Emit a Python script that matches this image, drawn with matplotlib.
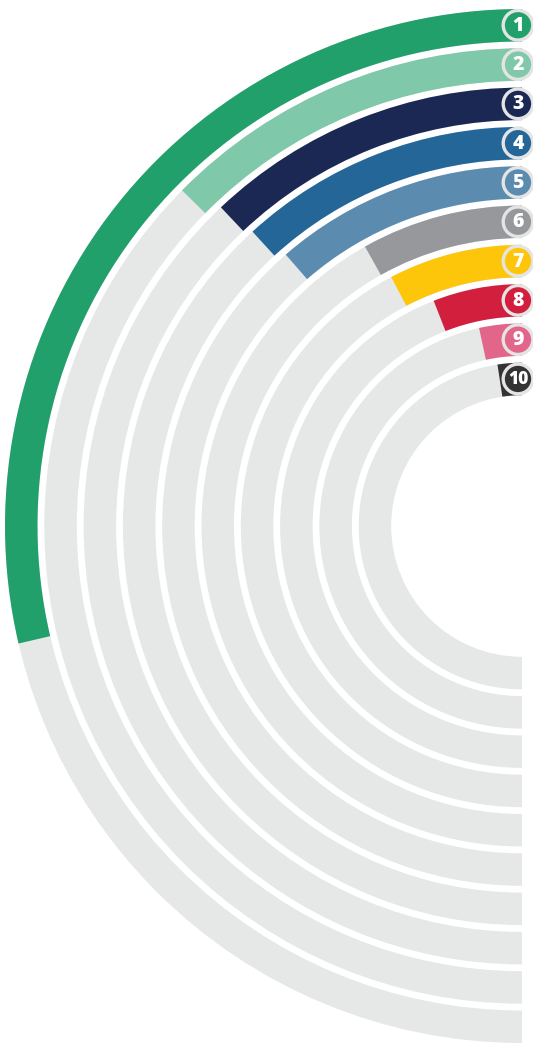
import matplotlib.pyplot as plt
from matplotlib.patches import Wedge, Circle

# share of each ring (100 = full half circle)
ranks = ["1", "2", "3", "4", "5", "6", "7", "8", "9", "10"]
values = [57.3, 25.2, 24.1, 23.6, 22.8, 16.3, 15.4, 11.9, 6.8, 4.8]
colors = ["#22a06b", "#7fc8a9", "#1b2853", "#256698", "#5b8cb0",
          "#97989c", "#fdc60a", "#d21f3d", "#e2668a", "#333333"]
track_color = "#e6e7e7"

W, H = 533, 1044
cx, cy = 522, H - 526      # centre of the rings, pixel units
r_outer = 517
ring_w = 32.5
pitch = 39.3

fig = plt.figure(figsize=(W / 100, H / 100), dpi=100)
ax = fig.add_axes([0, 0, 1, 1])
ax.set_xlim(0, W)
ax.set_ylim(0, H)
ax.set_aspect("equal")
ax.axis("off")

for i, (lab, val, col) in enumerate(zip(ranks, values, colors)):
    r = r_outer - i * pitch
    # grey track over the left half, then the value arc from the top
    ax.add_patch(Wedge((cx, cy), r, 90, 270, width=ring_w, facecolor=track_color, edgecolor="none"))
    ax.add_patch(Wedge((cx, cy), r, 90, 90 + val / 100 * 180, width=ring_w,
                       facecolor=col, edgecolor="none"))

    # numbered badge at the start of the arc
    by = cy + r - ring_w / 2
    ax.add_patch(Circle((518, by), 14.8, facecolor=col, edgecolor="#e4e4e4", lw=2.4, zorder=3))
    ax.text(518, by - 0.5, lab, color="white", ha="center", va="center",
            fontsize=14 if len(lab) == 1 else 12.5, fontweight="heavy",
            family="Open Sans", zorder=4)

fig.savefig("out.png", dpi=100)
